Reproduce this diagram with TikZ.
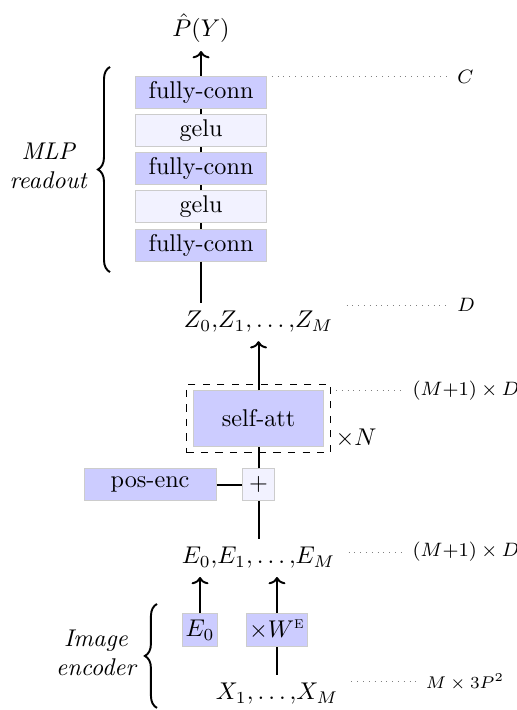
\documentclass[tikz,border=0pt]{standalone}
\usepackage{amsmath}
\usetikzlibrary{fit,arrows.meta,decorations.pathreplacing}

\tikzset{
    block/.style={draw=black!20, fill=blue!20, thin, inner sep=1pt,
        minimum width=1.9cm, minimum height=0.465cm},
    act/.style={block, fill=blue!5},
    dimline/.style={dotted, black!50, thin, shorten <=2pt},
    dimlabel/.style={anchor=west, font=\footnotesize},
    bracket/.style={thick, decorate, decoration={brace, amplitude=5pt}}
}

\begin{document}
\begin{tikzpicture}[>={To[length=3pt, width=7pt]}]
                \useasboundingbox (0,0) rectangle (7.509,10.312);

                % MLP readout
                \node[block] (fc1) at (2.92,8.97) {fully-conn};
                \node[act] (g1) at (2.92,8.41) {gelu};
                \node[block] (fc2) at (2.92,7.86) {fully-conn};
                \node[act] (g2) at (2.92,7.31) {gelu};
                \node[block] (fc3) at (2.92,6.75) {fully-conn};
                \node (out) at (2.92,9.905) {$\hat{P}(Y)$};

                % transformer
                \node (Z) at (3.755,5.635) {$Z_0{,}Z_1{,}\ldots{,}Z_M$};
                \node[block, minimum height=0.8cm] (att) at (3.755,4.234) {self-att};
                \node[draw, dashed, thin, fit=(att), inner sep=2.6pt] (rep) {};
                \node (N) at (5.17,3.95) {$\times N$};
                \node[act, minimum width=0.465cm] (plus) at (3.755,3.27) {$+$};
                \node[block, minimum width=1.917cm] (pe) at (2.18,3.27) {pos-enc};
                \node (E) at (3.755,2.21) {$E_0{,}E_1{,}\ldots{,}E_M$};

                % image encoder
                \node[block, minimum width=0.508cm, minimum height=0.479cm] (e0) at (2.905,1.162) {$E_0$};
                \node[block, minimum width=0.857cm, minimum height=0.479cm] (we) at (4.023,1.162) {$\times W^{\textsc{e}}$};
                \node (X) at (4.023,0.232) {$X_1{,}\ldots{,}X_M$};

                % sizes
                \node[dimlabel] (dC) at (6.52,9.20) {$C$};
                \node[dimlabel] (dD) at (6.52,5.882) {$D$};
                \node[dimlabel] (dA) at (5.87,4.634) {$(M{+}1)\times D$};
                \node[dimlabel] (dE) at (5.87,2.295) {$(M{+}1)\times D$};
                \node[dimlabel, font=\scriptsize] (dX) at (6.06,0.407) {$M\times 3P^2$};

                \draw[thick] (fc3) edge (fc3 |- Z.north);
                \draw[thick] (fc3) edge (g2);
                \draw[thick] (g2) edge (fc2);
                \draw[thick] (fc2) edge (g1);
                \draw[thick] (g1) edge (fc1);
                \draw[thick, ->] (fc1) edge (out);

                \draw[thick] (X) edge (we);
                \draw[thick, ->] (we) edge (we |- E.south);
                \draw[thick, ->] (e0) edge (e0 |- E.south);
                \draw[thick] (E) edge (plus);
                \draw[thick] (pe) edge (plus);
                \draw[thick] (plus) edge (att);
                \draw[thick, ->] (att) edge (Z);

                \draw[dimline] (fc1.east |- dC) -- (dC);
                \draw[dimline] (Z.east |- dD) -- (dD);
                \draw[dimline] (rep.east |- dA) -- (dA);
                \draw[dimline] (E.east |- dE) -- (dE);
                \draw[dimline] (X.east |- dX) -- (dX);

                \draw[bracket] (1.598,6.36) -- (1.598,9.34);
                \node[font=\itshape, align=center] (mlp) at (0.7,7.90) {MLP\\readout};
                \draw[bracket] (2.28,0.03) -- (2.28,1.54);
                \node[font=\itshape, align=center] (enc) at (1.394,0.828) {Image\\encoder};
            \end{tikzpicture}
\end{document}
